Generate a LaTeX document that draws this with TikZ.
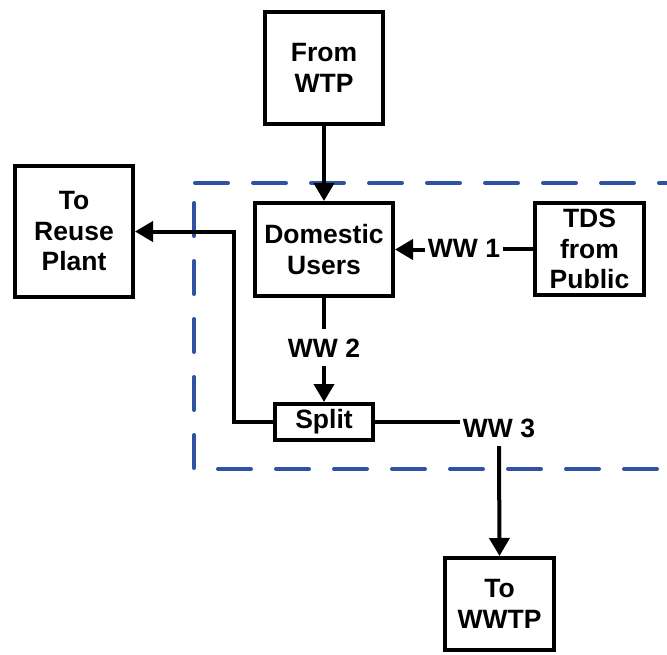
\documentclass[tikz,border=0pt]{standalone}
\usepackage{fontspec}
\setmainfont{Liberation Sans}
\usetikzlibrary{arrows.meta}
\definecolor{dashblue}{RGB}{48,82,163}
\tikzset{
  blk/.style={draw, line width=4pt, rectangle, align=center, inner sep=0pt,
    font=\fontsize{26.5}{30.5}\selectfont\bfseries},
  lbl/.style={inner xsep=3pt, inner ysep=9pt, text height=19pt, text depth=0pt,
    font=\fontsize{26.5}{30.5}\selectfont\bfseries},
  flow/.style={line width=4pt, -{Triangle[length=18pt,width=20pt]}},
  plain/.style={line width=4pt},
  bound/.style={draw=dashblue, line width=4pt, line cap=round, dash pattern=on 33pt off 25pt}
}
\begin{document}
\begin{tikzpicture}[x=1pt,y=-1pt]
\useasboundingbox (0,0) rectangle (667,654);
% boundary
\draw[bound] (195,183) -- (700,183);
\draw[bound] (194,203) -- (194,469) -- (700,469);
% blocks
\node[blk, minimum width=118pt, minimum height=112pt] (wtp) at (324,68) {From\\WTP};
\node[blk, minimum width=138pt, minimum height=93pt] (dom) at (324,249.5) {Domestic\\Users};
\node[blk, minimum width=109pt, minimum height=92pt] (tds) at (589.5,249) {TDS\\from\\Public};
\node[blk, minimum width=118pt, minimum height=131pt] (reuse) at (74,231.5) {To\\Reuse\\Plant};
\node[blk, minimum width=98pt, minimum height=36pt] (split) at (324,422) {Split};
\node[blk, minimum width=109pt, minimum height=92pt] (wwtp) at (499.5,604) {To\\WWTP};
% labels
\node[lbl] (ww1) at (464,247.5) {WW 1};
\node[lbl] (ww2) at (324,347.5) {WW 2};
\node[lbl] (ww3) at (499,427.5) {WW 3};
% connectors
\draw[flow] (wtp.south) -- (dom.north);
\draw[plain] (tds.west) -- (tds.west -| ww1.east);
\draw[flow] (ww1.west |- dom.east) -- (dom.east);
\draw[plain] (dom.south) -- (ww2.north);
\draw[flow] (ww2.south) -- (split.north);
\draw[flow] (split.west) -- ++(-39,0) |- (reuse.east);
\draw[plain] (split.east) -- (split.east -| ww3.west);
\draw[flow] (ww3.south) -- (wwtp.north);
\end{tikzpicture}
\end{document}
